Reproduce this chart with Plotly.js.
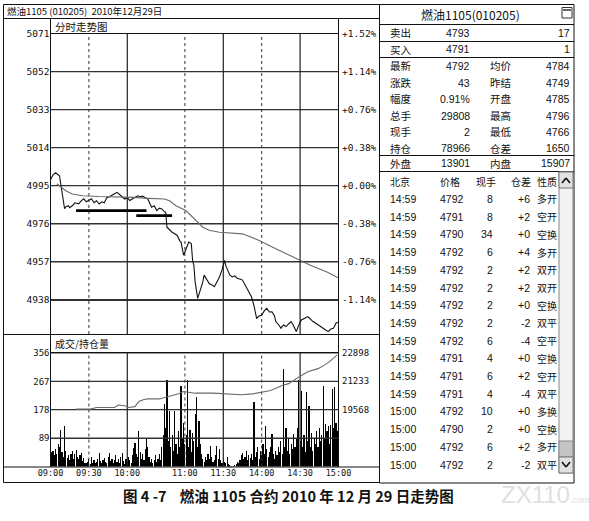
<!DOCTYPE html>
<html>
<head>
<meta charset="utf-8">
<script src="https://cdn.plot.ly/plotly-3.0.1.min.js"></script>
<style>
html,body{margin:0;padding:0;background:#fff;}
#chart{width:589px;height:521px;}
</style>
</head>
<body>
<div id="chart"></div>
<script>
// ---------- DATA ----------
const headerLeft = '燃油1105 (010205)  2010年12月29日';
const priceTitle = '分时走势图';
const volTitle = '成交/持仓量';
const caption = '图 4 -7\u00a0\u00a0\u00a0\u00a0燃油 1105 合约 2010 年 12 月 29 日走势图';

// minutes since 09:00 on a trading-minute axis (09:00-10:15, 10:30-11:30, 13:30-15:00)
const sessionTicks = [0, 30, 60, 105, 135, 165, 195, 225];
const timeLabels = ['09:00', '09:30', '10:00', '11:00', '11:30', '14:00', '14:30', '15:00'];
const solidGridMinutes = [60, 135, 195];
const dottedGridMinutes = [30, 105, 165];

const priceTicks = [4938, 4957, 4976, 4995, 5014, 5033, 5052, 5071];
const pctLabels = ['-1.14%', '-0.76%', '-0.38%', '+0.00%', '+0.38%', '+0.76%', '+1.14%', '+1.52%'];
const priceRange = [4921, 5071];

const volTicks = [89, 178, 267, 356];
const volRange = [0, 356];
const oiTicks = [19568, 21233, 22898];

const priceMinutes = [0,2,4,6,7,8,10,11,12,14,15,17,19,22,24,26,28,30,32,34,36,38,40,42,44,46,48,50,52,54,56,58,60,62,64,66,68,70,72,74,76,77,79,81,83,85,87,89,90,91,93,95,97,99,101,102,104,105,106,107,108,110,111,112,113,115,118,119,120,122,124,126,128,130,132,134,136,137,139,140,142,144,146,148,150,153,155,157,159,161,163,165,167,169,171,173,175,176,179,180,182,184,186,188,190,192,194,196,199,201,203,205,207,209,211,213,215,217,219,221,222,223,225];
const priceValues = [4998,5000.5,5001.5,5000.5,5000,4996,4988.4,4983.5,4984.5,4985,4984,4985,4986.5,4986,4987.5,4988.5,4987,4987.6,4988.5,4986.5,4987.5,4985.9,4987,4986.5,4989,4989.5,4990.4,4991,4991.7,4990.4,4989.5,4988.4,4989,4987.6,4988.5,4989.2,4990,4989.5,4989.8,4989,4988.4,4987,4984.3,4985,4982.6,4983.8,4983.4,4982,4981.8,4974.3,4973,4971.8,4971,4970.2,4967.5,4966.9,4960.3,4962,4964.4,4965.2,4966.9,4966.1,4957.8,4955.3,4947,4938.8,4944.6,4947,4950.4,4948,4946.2,4945.5,4944.6,4947,4949.5,4953,4957.8,4955,4952,4950.5,4949.5,4950,4948.7,4948.5,4947.9,4944.6,4942,4939.6,4935,4928.9,4930,4930.5,4932.5,4933.8,4932,4932.1,4930,4927.2,4925,4923.9,4925.5,4924.7,4926,4927.2,4925,4922.2,4925.5,4928,4929,4929.7,4928.5,4927.2,4926.5,4925.5,4924.5,4923.9,4923,4922.2,4923.5,4923.9,4925,4926.4,4927];

const avgMinutes = [5,8,12,17,25,38,51,64,77,89,93,98,106,114,119,124,132,150,163,176,190,203,216,225];
const avgValues = [4996,4994.5,4992.5,4990.9,4990,4989.6,4989.5,4989.2,4988.7,4988.4,4987.5,4985,4982.5,4977.6,4974.3,4972.8,4971.8,4971,4967.7,4963.6,4959.4,4955.3,4952,4949];

// thick support segments drawn on the chart: [start minute, end minute, price]
const supportLines = [[20, 75, 4982.6], [67, 95, 4980.1]];

// per-minute volume (225 trading minutes)
const volumes = [
 53,45,48,35,55,40,70,60,113,45,
 30,127,50,28,35,20,40,48,25,38,
 53,30,22,35,42,18,28,12,10,15,
 22,8,30,12,20,10,15,25,42,18,
 12,20,28,15,10,30,42,18,25,12,
 20,35,15,22,10,30,42,18,8,25,
 15,30,20,10,35,58,75,40,30,111,
 45,25,38,20,55,90,60,30,15,25,
 10,20,35,15,25,40,20,60,100,196,
 120,272,80,175,60,100,50,175,70,40,
 112,60,254,90,137,70,100,272,60,115,
 45,105,80,164,217,60,143,70,40,25,
 15,30,20,40,25,64,30,15,20,35,
 64,25,55,20,10,25,15,10,30,8,
 5,3,0,2,5,8,15,10,20,35,
 42,25,30,48,20,35,28,40,20,201,
 30,45,60,25,50,35,70,40,127,55,
 30,45,60,101,40,25,50,35,60,45,
 80,40,305,60,122,50,90,40,70,55,
 101,60,90,120,270,80,238,60,100,45,
 233,80,191,60,106,50,90,70,110,60,
 120,80,100,254,90,133,110,127,70,130,
 244,120,250,138,110];

const oiMinutes = [20,31,36,50,53,58,61,66,69,73,76,85,90,100,104,108,113,127,134,142,149,158,164,172,181,186,190,194,201,209,214,218,224];
const oiValues = [19605,19605,19699,19699,19849,19800,19699,19750,20054,20167,20204,20204,20298,20503,20634,20600,20541,20541,20503,20466,20447,20500,20597,20700,20990,21100,21289,21495,21794,21981,22187,22393,22786];

// right panel
const quoteTitle = '燃油1105(010205)';
const askRow = ['卖出', '4793', '17'];
const bidRow = ['买入', '4791', '1'];
const statLabelsL = ['最新', '涨跌', '幅度', '总手', '现手', '持仓'];
const statValuesL = ['4792', '43', '0.91%', '29808', '2', '78966'];
const statLabelsR = ['均价', '昨结', '开盘', '最高', '最低', '仓差'];
const statValuesR = ['4784', '4749', '4785', '4796', '4766', '1650'];
const outInRow = ['外盘', '13901', '内盘', '15907'];
const tradeHeaders = ['北京', '价格', '现手', '仓差', '性质'];
const tradeTimes = ['14:59','14:59','14:59','14:59','14:59','14:59','14:59','14:59','14:59','14:59','14:59','14:59','15:00','15:00','15:00','15:00'];
const tradePrices = ['4792','4791','4790','4792','4792','4792','4792','4792','4792','4791','4791','4791','4792','4790','4792','4792'];
const tradeVols = ['8','8','34','6','2','2','2','2','6','4','6','4','10','2','6','2'];
const tradeOIChg = ['+6','+2','+0','+4','+2','+2','+0','-2','-4','+0','+2','-4','+0','+0','+2','-2'];
const tradeTypes = ['多开','空开','空换','多开','双开','双开','空换','双平','空平','空换','空开','双平','多换','空换','多开','双平'];

// ---------- BUILD ----------
const W = 589, H = 521;
const px = v => v / W;
const py = v => 1 - v / H;
const xRange = [sessionTicks[0], sessionTicks[sessionTicks.length - 1]];

// open-interest axis aligned with the volume axis (178 -> 19568, 356 -> 22898)
const oiPerUnit = (oiTicks[2] - oiTicks[0]) / (volTicks[3] - volTicks[1]);
const oiRange = [oiTicks[0] - volTicks[1] * oiPerUnit, oiTicks[2]];

const volMinutes = volumes.map((v, i) => i);

const CJK = 'Noto Sans CJK SC';
const NUM = 'Liberation Sans';
const MONO = 'DejaVu Sans Mono';
const GRID = '#333';

const traces = [];
// horizontal value gridlines as line traces (underneath the data)
priceTicks.forEach(v => traces.push({x: xRange, y: [v, v], xaxis: 'x', yaxis: 'y', type: 'scatter',
  mode: 'lines', line: {color: GRID, width: 1.2}, hoverinfo: 'skip'}));
volTicks.forEach(v => traces.push({x: xRange, y: [v, v], xaxis: 'x2', yaxis: 'y3', type: 'scatter',
  mode: 'lines', line: {color: GRID, width: 1.2}, hoverinfo: 'skip'}));
// vertical time gridlines as line traces
solidGridMinutes.concat(dottedGridMinutes).forEach(m => {
  const dotted = dottedGridMinutes.includes(m);
  const ln = {color: dotted ? '#333' : '#222', width: dotted ? 1 : 1.2, dash: dotted ? 'dot' : 'solid'};
  traces.push({x: [m, m], y: priceRange, xaxis: 'x', yaxis: 'y', type: 'scatter', mode: 'lines',
    line: ln, hoverinfo: 'skip'});
  traces.push({x: [m, m], y: volRange, xaxis: 'x2', yaxis: 'y3', type: 'scatter', mode: 'lines',
    line: ln, hoverinfo: 'skip'});
});

traces.push(
  {x: priceMinutes, y: priceValues, xaxis: 'x', yaxis: 'y', type: 'scatter', mode: 'lines',
   line: {color: '#111', width: 1.1}, hoverinfo: 'skip'},
  {x: avgMinutes, y: avgValues, xaxis: 'x', yaxis: 'y', type: 'scatter', mode: 'lines',
   line: {color: '#6a6a6a', width: 1.1}, hoverinfo: 'skip'},
  {x: volMinutes, y: volumes, xaxis: 'x2', yaxis: 'y3', type: 'bar', width: 0.9,
   marker: {color: '#000', line: {width: 0}}, hoverinfo: 'skip'},
  {x: oiMinutes, y: oiValues, xaxis: 'x3', yaxis: 'y4', type: 'scatter', mode: 'lines',
   line: {color: '#6a6a6a', width: 1.1}, hoverinfo: 'skip'}
);
supportLines.forEach(s => {
  traces.push({x: [s[0], s[1]], y: [s[2], s[2]], xaxis: 'x', yaxis: 'y', type: 'scatter',
    mode: 'lines', line: {color: '#000', width: 2.6}, hoverinfo: 'skip'});
});

const shapes = [];
function line(x0, y0, x1, y1, opts) {
  shapes.push(Object.assign({type: 'line', xref: 'paper', yref: 'paper',
    x0: px(x0), y0: py(y0), x1: px(x1), y1: py(y1), line: {color: '#111', width: 1}}, opts || {}));
}
function rect(x0, y0, x1, y1, opts) {
  shapes.push(Object.assign({type: 'rect', xref: 'paper', yref: 'paper',
    x0: px(x0), y0: py(y0), x1: px(x1), y1: py(y1), line: {color: '#111', width: 1}}, opts || {}));
}

// left panel frames
rect(3.5, 4.5, 379.5, 482.5);
line(3.5, 18.5, 379.5, 18.5);
rect(50.5, 18.5, 338.5, 33.5);
line(50.5, 18.5, 50.5, 467);
line(338.5, 18.5, 338.5, 467);
line(3.5, 334.5, 379.5, 334.5);
rect(50.5, 334.5, 338.5, 352.5);
line(3.5, 467, 379.5, 467);

// right panel frames
rect(379.5, 4.5, 574, 483);
[24.5, 41.5, 57.5, 155.5, 171.5].forEach(y => line(379.5, y, 574, y));
rect(562, 7.5, 572, 18, {line: {color: '#333', width: 1}});
line(563, 10, 571, 10, {line: {color: '#333', width: 1.5}});
// scrollbar
rect(559, 172, 573, 473, {fillcolor: '#f2f2f2', line: {color: '#888', width: 1}});
rect(559, 172, 573, 188, {fillcolor: '#e2e2e2', line: {color: '#777', width: 1}});
rect(559, 441, 573, 457, {fillcolor: '#c4c4c4', line: {color: '#888', width: 1}});
rect(559, 457, 573, 473, {fillcolor: '#e2e2e2', line: {color: '#777', width: 1}});
line(562, 183, 566, 178, {line: {color: '#111', width: 1.6}});
line(566, 178, 570, 183, {line: {color: '#111', width: 1.6}});
line(562, 462, 566, 467, {line: {color: '#111', width: 1.6}});
line(566, 467, 570, 462, {line: {color: '#111', width: 1.6}});

const annotations = [];
function txt(x, y, text, anchor, font) {
  annotations.push({xref: 'paper', yref: 'paper', x: px(x), y: py(y), text: text,
    showarrow: false, xanchor: anchor || 'left', yanchor: 'middle',
    font: Object.assign({family: NUM, size: 10.5, color: '#111'}, font || {})});
}

// right-hand axis labels placed through the axes' own scales
const monoTick = {family: MONO, size: 9.5, color: '#111'};
priceTicks.forEach((v, i) => annotations.push({xref: 'paper', yref: 'y', x: px(340), y: v,
  text: pctLabels[i], showarrow: false, xanchor: 'left', yanchor: 'middle', font: monoTick}));
oiTicks.forEach(v => annotations.push({xref: 'paper', yref: 'y4', x: px(340), y: v,
  text: String(v), showarrow: false, xanchor: 'left', yanchor: 'middle', font: {family: MONO, size: 9, color: '#111'}}));

txt(5, 11.5, headerLeft, 'left', {family: CJK, size: 9.5});
txt(53, 26, priceTitle, 'left', {family: CJK, size: 10.5});
txt(53, 343.5, volTitle, 'left', {family: CJK, size: 10});

// right panel text
txt(470, 14.5, quoteTitle, 'center', {family: CJK, size: 12});
const cjk11 = {family: CJK, size: 10.5};
const cjk10 = {family: CJK, size: 10};
txt(388, 33, askRow[0], 'left', cjk11); txt(472, 33, askRow[1], 'right'); txt(572, 33, askRow[2], 'right');
txt(388, 49.5, bidRow[0], 'left', cjk11); txt(472, 49.5, bidRow[1], 'right'); txt(572, 49.5, bidRow[2], 'right');
const statY = [66, 82.5, 99, 115.5, 131.5, 148];
statLabelsL.forEach((l, i) => {
  txt(388, statY[i], l, 'left', cjk11);
  txt(472, statY[i], statValuesL[i], 'right');
  txt(488, statY[i], statLabelsR[i], 'left', cjk11);
  txt(572, statY[i], statValuesR[i], 'right');
});
txt(388, 163.5, outInRow[0], 'left', cjk11); txt(472, 163.5, outInRow[1], 'right');
txt(488, 163.5, outInRow[2], 'left', cjk11); txt(572, 163.5, outInRow[3], 'right');
const hdrX = [388, 438, 474, 509, 535];
tradeHeaders.forEach((h, i) => txt(hdrX[i], 181, h, 'left', cjk10));
tradeTimes.forEach((t, i) => {
  const y = 199 + i * 17.7;
  txt(388, y, t, 'left');
  txt(438, y, tradePrices[i], 'left');
  txt(495, y, tradeVols[i], 'right');
  txt(532, y, tradeOIChg[i], 'right');
  txt(535, y, tradeTypes[i], 'left', cjk10);
});

// caption and watermark
txt(288, 495, '<b>' + caption + '</b>', 'center', {family: CJK, size: 14.5, color: '#111'});
txt(545, 494, 'ZX110<span style="font-size:9px">.com</span>', 'center', {family: NUM, size: 24, color: '#e0e0e0'});

const layout = {
  width: W, height: H,
  margin: {l: 0, r: 0, t: 0, b: 0, pad: 0},
  paper_bgcolor: '#fff', plot_bgcolor: 'rgba(0,0,0,0)',
  showlegend: false, bargap: 0,
  font: {family: NUM, size: 10, color: '#111'},
  xaxis: {domain: [px(50.5), px(338.5)], range: xRange, anchor: 'y', showticklabels: false,
    showgrid: false, zeroline: false, ticks: '', fixedrange: true},
  yaxis: {domain: [py(334), py(33.5)], range: priceRange, anchor: 'x', tickvals: priceTicks,
    ticktext: priceTicks.map(String), showgrid: true, gridcolor: GRID, gridwidth: 1.2,
    zeroline: false, ticks: '', tickfont: monoTick, fixedrange: true},
  xaxis2: {domain: [px(50.5), px(338.5)], range: xRange, anchor: 'y3', tickvals: sessionTicks,
    ticktext: timeLabels, showgrid: false, zeroline: false, ticks: '',
    tickfont: {family: MONO, size: 8.5, color: '#111'}, fixedrange: true},
  yaxis3: {domain: [py(466.5), py(353)], range: volRange, anchor: 'x2', tickvals: volTicks,
    ticktext: volTicks.map(String), showgrid: true, gridcolor: GRID, gridwidth: 1.2,
    zeroline: false, ticks: '', tickfont: {family: MONO, size: 9, color: '#111'}, fixedrange: true},
  xaxis3: {domain: [px(50.5), px(338.5)], range: xRange, anchor: 'y4', visible: false, fixedrange: true},
  yaxis4: {domain: [py(466.5), py(353)], range: oiRange, anchor: 'x3', visible: false, fixedrange: true},
  shapes: shapes,
  annotations: annotations
};

Plotly.newPlot('chart', traces, layout, {staticPlot: true, displayModeBar: false});
</script>
</body>
</html>
